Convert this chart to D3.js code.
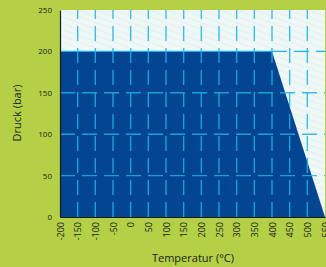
<!DOCTYPE html>
<html>
<head>
<meta charset="utf-8">
<script src="https://cdn.jsdelivr.net/npm/d3@7"></script>
<style>
  body { margin: 0; background: #b3d046; }
  text { font-family: "Open Sans", "Noto Sans", sans-serif; fill: #222; }
</style>
</head>
<body>
<script>
// Druck/Temperatur Einsatzbereich
const tempTicks = [-200, -150, -100, -50, 0, 50, 100, 150, 200, 250, 300, 350, 400, 450, 500, 550];
const pressTicks = [0, 50, 100, 150, 200, 250];
// Grenzkurve (Temperatur, Druck)
const limitTemp = [-200, -200, 400, 550];
const limitPress = [0, 200, 200, 0];

const W = 326, H = 267;
const margin = {top: 10, right: 1, bottom: 50, left: 60};

const svg = d3.select("body").append("svg")
    .attr("width", W)
    .attr("height", H);

const x = d3.scaleLinear().domain([-200, 550]).range([margin.left, W - margin.right]);
const y = d3.scaleLinear().domain([0, 250]).range([H - margin.bottom, margin.top]);

// faint hatch for upper area
const defs = svg.append("defs");
const pat = defs.append("pattern")
    .attr("id", "hatch")
    .attr("patternUnits", "userSpaceOnUse")
    .attr("width", 16).attr("height", 6)
    .attr("patternTransform", "rotate(20)");
pat.append("rect").attr("width", 16).attr("height", 6).attr("fill", "#eef7fa");
pat.append("line").attr("x1", 0).attr("y1", 0.5).attr("x2", 16).attr("y2", 0.5)
    .attr("stroke", "#e3efd6").attr("stroke-width", 0.7);

svg.append("rect")
    .attr("x", x(-200)).attr("y", y(250))
    .attr("width", x(550) - x(-200)).attr("height", y(0) - y(250))
    .attr("fill", "url(#hatch)");

const pts = limitTemp.map((t, i) => [x(t), y(limitPress[i])]);
svg.append("path")
    .attr("d", d3.line()(pts) + "Z")
    .attr("fill", "#034591");

// grid
const grid = svg.append("g").attr("stroke", "#1fb2ea").attr("stroke-width", 1.4).attr("opacity", 0.85);
grid.selectAll(".v").data(tempTicks.filter(t => t > -200 && t < 550))
  .enter().append("line")
    .attr("x1", d => x(d)).attr("x2", d => x(d))
    .attr("y1", y(0)).attr("y2", y(250))
    .attr("stroke-dasharray", "15,7");
grid.selectAll(".h").data(pressTicks.filter(p => p > 0 && p < 200))
  .enter().append("line")
    .attr("x1", x(-200)).attr("x2", x(550))
    .attr("y1", d => y(d)).attr("y2", d => y(d))
    .attr("stroke-dasharray", "15,7");
// 200 bar line: solid along the limit, dashed beyond
svg.append("line")
    .attr("x1", x(-200)).attr("x2", x(400))
    .attr("y1", y(200)).attr("y2", y(200))
    .attr("stroke", "#1fb2ea").attr("stroke-width", 1.4);
svg.append("line")
    .attr("x1", x(400)).attr("x2", x(550))
    .attr("y1", y(200)).attr("y2", y(200))
    .attr("stroke", "#1fb2ea").attr("stroke-width", 1.4)
    .attr("stroke-dasharray", "15,7");

// axes
const xAxis = svg.append("g")
    .attr("transform", `translate(0,${y(0)})`)
    .call(d3.axisBottom(x).tickValues(tempTicks).tickFormat(d => String(d)).tickSize(0).tickPadding(4));
xAxis.select(".domain").attr("stroke", "#1a1a1a").attr("stroke-width", 1.2);
xAxis.selectAll("text")
    .attr("font-size", 9)
    .attr("fill", "#222")
    .attr("text-anchor", "end")
    .attr("transform", "rotate(-90)")
    .attr("x", -5).attr("y", 0).attr("dy", "0.35em");

const yAxis = svg.append("g")
    .attr("transform", `translate(${x(-200)},0)`)
    .call(d3.axisLeft(y).tickValues(pressTicks).tickFormat(d => String(d)).tickSize(0).tickPadding(8));
yAxis.select(".domain").attr("stroke", "#1a1a1a").attr("stroke-width", 1.2);
yAxis.selectAll("text").attr("font-size", 8).attr("fill", "#222");

svg.append("text")
    .attr("x", 193).attr("y", 262)
    .attr("text-anchor", "middle")
    .attr("font-size", 11)
    .text("Temperatur (°C)");

svg.append("text")
    .attr("transform", "translate(21,113) rotate(-90)")
    .attr("text-anchor", "middle")
    .attr("font-size", 11)
    .text("Druck (bar)");
</script>
</body>
</html>
